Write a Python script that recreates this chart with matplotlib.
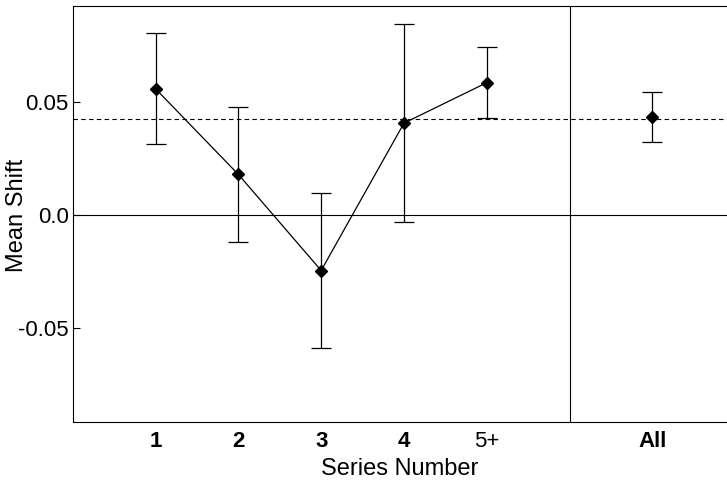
import numpy as np
import matplotlib.pyplot as plt

plt.rcParams['font.family'] = ['Liberation Sans', 'DejaVu Sans']

# series number groups and their mean shifts
labels = ['1', '2', '3', '4', '5+', 'All']
xpos = [1, 2, 3, 4, 5, 7]
means = [0.0558, 0.0179, -0.0246, 0.0406, 0.0585, 0.0433]
errs = [0.0245, 0.0300, 0.0344, 0.0438, 0.0156, 0.0110]
overall = 0.0426

fig = plt.figure(figsize=(7.27, 4.82), dpi=100)
ax = fig.add_axes([0.100, 0.125, 0.900, 0.863])

# individual series, connected
ax.errorbar(xpos[:5], means[:5], yerr=errs[:5], fmt='D-', color='black',
            markersize=6, linewidth=0.9, elinewidth=0.9, capsize=7, capthick=0.9)
# combined
ax.errorbar(xpos[5:], means[5:], yerr=errs[5:], fmt='D', color='black',
            markersize=6, elinewidth=0.9, capsize=7, capthick=0.9)

ax.axhline(0, color='black', linewidth=0.8)
ax.axhline(overall, color='black', linewidth=0.8, linestyle=(0, (4, 3)))
ax.axvline(6, color='black', linewidth=0.8)

ax.set_xlim(0, 7.9)
ax.set_ylim(-0.0915, 0.0925)
ax.set_xticks(xpos)
ax.set_xticklabels(labels, fontsize=16)
for t, lab in zip(ax.get_xticklabels(), labels):
    if lab != '5+':
        t.set_fontweight('bold')
ax.set_yticks([-0.05, 0.0, 0.05])
ax.set_yticklabels(['-0.05', '0.0', '0.05'], fontsize=16)
ax.tick_params(axis='x', length=0, pad=7)
ax.tick_params(axis='y', direction='in', length=5, width=0.8, pad=3)

ax.spines['right'].set_visible(False)
for s in ['left', 'top', 'bottom']:
    ax.spines[s].set_linewidth(0.8)

ax.set_xlabel('Series Number', fontsize=17, labelpad=4)
fig.text(0.024, 0.554, 'Mean Shift', fontsize=17, rotation=90,
         ha='center', va='center')

fig.savefig('out.png', dpi=100)
